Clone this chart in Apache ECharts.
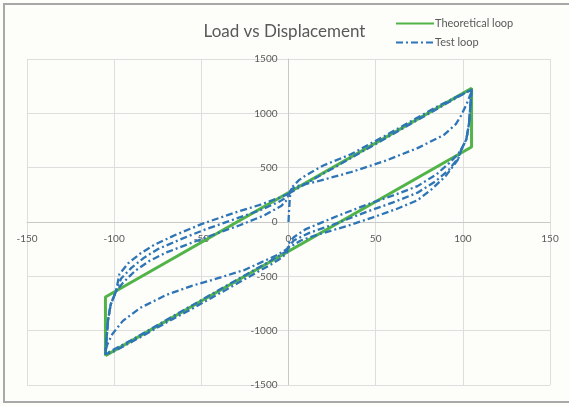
<!DOCTYPE html>
<html>
<head>
<meta charset="utf-8">
<script src="https://cdn.jsdelivr.net/npm/echarts@6/dist/echarts.min.js"></script>
<style>
html,body{margin:0;padding:0;background:#fdfdfa;}
#c{width:569px;height:406px;}
</style>
</head>
<body>
<div id="c"></div>
<script>
// ---- data ----
const xTicks = [-150, -100, -50, 0, 50, 100, 150];
const yTicks = [-1500, -1000, -500, 0, 500, 1000, 1500];

// Theoretical loop corners
const theoX = [-105, -105, 105, 105, -105];
const theoY = [-1230, -690, 1230, 690, -1230];

// Test loop segments [displacement, load]
const startSeg = [[0,0],[0.3,100],[0.8,230]];
const loadC = [[1.5,300],[6,335],[16.8,375],[36,460],[55,560],[74,680],[89,800],[96,900],[99,980],[102,1080],[104,1160],[105,1200]];
const loadB = [[0,260],[15,400],[30,535],[45,672],[60,810],[75,947],[90,1085],[105,1220]];
const loadA = [[0,240],[2,320],[6,385],[10,430],[20,520],[36,625],[55,790],[70,925],[85,1060],[100,1180],[105,1215]];
const downR = [[104.5,1100],[103.5,900],[102,760],[99,663]];
const unloadR1 = [[97,620],[92,540],[85,440],[74,330],[61,250],[45,160],[28,55],[10,-65],[3,-140],[0,-200]];
const unloadR2 = [[98,600],[92,480],[84,370],[74,270],[60,180],[45,95],[28,-10],[12,-100],[3,-170],[0,-230]];
const unloadR3 = [[97,570],[90,420],[82,300],[74,200],[62,120],[48,40],[33,-40],[18,-110],[7,-170],[0,-240]];
const loadA2 = [[-1,-290],[-5,-340],[-10,-390],[-20,-480],[-36,-625],[-55,-795],[-70,-925],[-85,-1060],[-100,-1190],[-105,-1215]];
const loadB2 = [[0,-260],[-15,-400],[-30,-535],[-45,-672],[-60,-810],[-75,-947],[-90,-1085],[-105,-1215]];
const loadC2 = [[0,-230],[-6,-300],[-12.8,-350],[-25,-440],[-43,-530],[-55,-585],[-70,-670],[-85,-790],[-95,-910],[-101,-1030],[-104,-1130],[-105,-1190]];
const upL = [[-104.5,-1100],[-103.5,-900],[-102,-760],[-99,-640]];
const unloadL1 = [[-97,-480],[-92,-380],[-85,-290],[-77,-210],[-65,-120],[-50,-20],[-32,80],[-16,160],[-5,225],[0,260]];
const unloadL2 = [[-96,-520],[-90,-420],[-83,-330],[-75,-250],[-62,-160],[-48,-70],[-32,20],[-16,110],[-5,190],[0,240]];
const unloadL3 = [[-95,-560],[-88,-450],[-80,-360],[-70,-280],[-57,-200],[-42,-110],[-28,-30],[-14,60],[-4,150],[0,220]];

const cycle1 = [].concat(startSeg, loadC, downR, unloadR1, loadA2, upL, unloadL1);
const cycle2 = [].concat(loadB, downR, unloadR2, loadB2, upL, unloadL2);
const cycle3 = [].concat(loadA, downR, unloadR3, loadC2, upL, unloadL3);

const theoData = theoX.map((x, i) => [x, theoY[i]]);

const textColor = '#595959';
const blue = '#2E75B6';
const green = '#52B448';

const W = 569, H = 406;
const G = { left: 27, right: 19, top: 59, bottom: 21 };

function testSeries(data) {
  return {
    name: 'Test loop', type: 'line', data: data, symbol: 'none', smooth: false,
    lineStyle: { color: blue, width: 2.3, type: [7, 3, 2, 3] },
    itemStyle: { color: blue }, z: 3, animation: false
  };
}

const chart = echarts.init(document.getElementById('c'), null, { renderer: 'canvas' });
chart.setOption({
  backgroundColor: '#fdfdfa',
  animation: false,
  title: {
    text: 'Load vs Displacement', left: 'center', top: 18,
    textStyle: { color: textColor, fontSize: 17, fontWeight: 'normal', fontFamily: 'Lato' }
  },
  legend: {
    orient: 'vertical', left: 390, top: 13, itemWidth: 38, itemHeight: 10, itemGap: 8,
    itemStyle: { opacity: 0 },
    textStyle: { color: textColor, fontSize: 11, fontFamily: 'Lato', padding: [0, 0, 0, -4] },
    data: ['Theoretical loop', 'Test loop']
  },
  grid: { left: G.left, right: G.right, top: G.top, bottom: G.bottom, containLabel: false, outerBoundsMode: 'none' },
  xAxis: {
    type: 'value', min: xTicks[0], max: xTicks[xTicks.length - 1], interval: 50,
    position: 'bottom', offset: -(H - G.top - G.bottom) / 2,
    axisLine: { onZero: false, lineStyle: { color: '#c8c8c8', width: 1 } },
    axisTick: { show: false },
    axisLabel: { color: textColor, fontSize: 10, fontFamily: 'Lato', margin: 12, formatter: v => String(v) },
    splitLine: { lineStyle: { color: '#dedede', width: 1 } }
  },
  yAxis: {
    type: 'value', min: yTicks[0], max: yTicks[yTicks.length - 1], interval: 500,
    position: 'left', offset: -(W - G.left - G.right) / 2,
    axisLine: { onZero: false, lineStyle: { color: '#c8c8c8', width: 1 } },
    axisTick: { show: false },
    axisLabel: { color: textColor, fontSize: 10, fontFamily: 'Lato', margin: 11, formatter: v => String(v) },
    splitLine: { lineStyle: { color: '#dedede', width: 1 } }
  },
  graphic: [{
    type: 'rect', shape: { x: 4, y: 4, width: 575, height: 398 },
    style: { fill: 'none', stroke: '#a8a8a8', lineWidth: 2 }, silent: true, z: 100
  }],
  series: [
    {
      name: 'Theoretical loop', type: 'line', data: theoData, symbol: 'none',
      lineStyle: { color: green, width: 3 }, itemStyle: { color: green }, z: 2, animation: false
    },
    testSeries(cycle1),
    testSeries(cycle2),
    testSeries(cycle3)
  ]
});
</script>
</body>
</html>
